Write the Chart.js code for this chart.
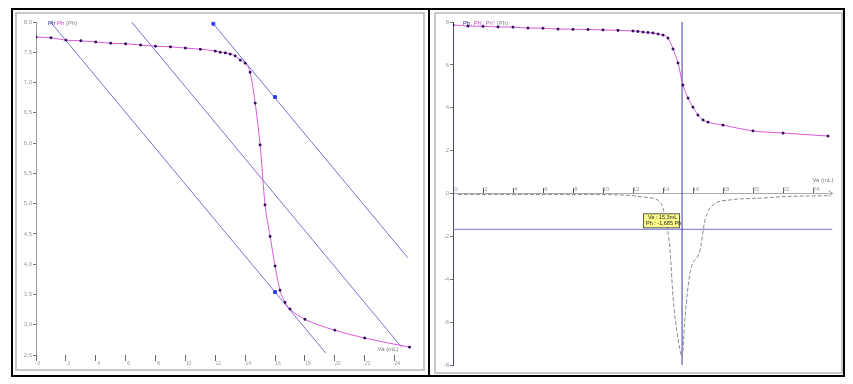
<!DOCTYPE html>
<html>
<head>
<meta charset="utf-8">
<script src="https://cdn.jsdelivr.net/npm/chart.js@4"></script>
<style>
    body { margin: 0; background: #fff; width: 853px; height: 384px; position: relative; overflow: hidden; font-family: "Liberation Sans", Arial, sans-serif; }
    .frame { position: absolute; left: 11px; top: 8px; width: 830px; height: 365px; border: 2px solid #000; }
    .divider { position: absolute; left: 428px; top: 8px; width: 2px; height: 369px; background: #000; }
    .inner { position: absolute; border: 2px solid #c8c8c8; box-sizing: border-box; }
    canvas { position: absolute; }
</style>
</head>
<body>
<div class="frame"></div>
<div class="divider"></div>
<div class="inner" style="left:15px;top:12px;width:410px;height:359px;"></div>
<div class="inner" style="left:434px;top:12px;width:409px;height:362px;"></div>
<canvas id="leftChart" width="405" height="354" style="left:17px;top:14px;"></canvas>
<canvas id="rightChart" width="404" height="357" style="left:436px;top:14px;"></canvas>
<script>
// titration: volume added (mL) and pH
var volumes = [0, 1, 2, 3, 4, 5, 6, 7, 8, 9, 10, 11, 12, 12.33, 12.67, 13, 13.33, 13.67, 14, 14.33, 14.67,
    15, 15.33, 15.67, 16, 16.33, 16.67, 17, 18, 20, 22, 25];
var phLeft = [7.75, 7.74, 7.70, 7.69, 7.67, 7.65, 7.64, 7.62, 7.60, 7.59, 7.57, 7.55, 7.52, 7.50, 7.49, 7.47, 7.44, 7.37, 7.32, 7.17, 6.66,
    5.97, 4.98, 4.46, 3.97, 3.57, 3.37, 3.26, 3.09, 2.91, 2.78, 2.63];
var phRight = [7.86, 7.81, 7.80, 7.77, 7.76, 7.72, 7.71, 7.67, 7.66, 7.65, 7.63, 7.61, 7.58, 7.56, 7.53, 7.51, 7.49, 7.44, 7.39, 7.25, 6.74,
    6.09, 5.06, 4.45, 4.03, 3.66, 3.43, 3.33, 3.19, 2.92, 2.82, 2.68];

// derivative dpH/dV (right panel, grey curve)
var derivVolumes = [0.33, 2.47, 8.87, 12.0, 12.27, 13.13, 13.93, 14.13, 14.47, 14.67, 15.13, 15.27, 15.47, 15.8, 16.47, 16.8, 17.33, 18.47, 20.67, 22.27, 25.13];
var derivValues = [-0.05, -0.05, -0.05, -0.1, -0.14, -0.2, -0.54, -1.1, -2.64, -4.83, -7.3, -7.62, -5.76, -3.71, -2.64, -1.24, -0.54, -0.30, -0.21, -0.14, -0.1];

// parallel tangents method (left panel)
var tangent1X = [0.97, 19.4], tangent1Y = [8.0, 2.53];
var tangent2X = [6.4, 24.47], tangent2Y = [8.0, 2.63];
var tangent3X = [11.87, 24.87], tangent3Y = [7.97, 4.11];
var handleX = [11.87, 16, 16], handleY = [7.97, 6.76, 3.54];

// cursor on right panel
var cursorVa = 15.27;
var cursorPh = -1.67;
var cursorText = ["Va : 15,3mL", "Ph : -1,685 Ph"];

var leftXTicks = [0, 2, 4, 6, 8, 10, 12, 14, 16, 18, 20, 22, 24];

function pts(xs, ys) {
    return xs.map(function (x, i) { return {x: x, y: ys[i]}; });
}

var tinyFont = {family: 'Liberation Sans', size: 6};

var leftText = {
    id: 'leftText',
    afterDraw: function (chart) {
        var ctx = chart.ctx, xs = chart.scales.x, area = chart.chartArea;
        ctx.save();
        ctx.font = '6px "Liberation Sans"';
        ctx.textBaseline = 'middle';
        var x = 31, y = 9;
        ctx.fillStyle = '#2a2a8a'; ctx.fillText('Ph', x, y); x += ctx.measureText('Ph ').width;
        ctx.fillStyle = '#d040d0'; ctx.fillText('Ph', x, y); x += ctx.measureText('Ph ').width;
        ctx.fillStyle = '#888'; ctx.fillText('(Ph)', x, y);
        ctx.fillStyle = '#777';
        ctx.fillText('Va (mL)', xs.getPixelForValue(24) - 17, area.bottom - 6);
        ctx.restore();
    }
};

var rightText = {
    id: 'rightText',
    afterDraw: function (chart) {
        var ctx = chart.ctx, xs = chart.scales.x, ys = chart.scales.y;
        ctx.save();
        ctx.font = '6px "Liberation Sans"';
        ctx.textBaseline = 'middle';
        var x = 27, y = 9;
        ctx.fillStyle = '#2a2a8a'; ctx.fillText('Ph,', x, y); x += ctx.measureText('Ph, ').width;
        ctx.fillStyle = '#d040d0'; ctx.fillText("Ph',", x, y); x += ctx.measureText("Ph', ").width;
        ctx.fillStyle = '#b070b0'; ctx.fillText("Ph''", x, y); x += ctx.measureText("Ph'' ").width;
        ctx.fillStyle = '#888'; ctx.fillText('(Ph)', x, y);

        // axis arrow and title
        var ax = xs.getPixelForValue(xs.max), ay = ys.getPixelForValue(0);
        ctx.strokeStyle = '#999';
        ctx.lineWidth = 1;
        ctx.beginPath();
        ctx.moveTo(ax - 4, ay - 3); ctx.lineTo(ax, ay); ctx.lineTo(ax - 4, ay + 3);
        ctx.stroke();
        ctx.fillStyle = '#777';
        ctx.fillText('Va (mL)', ax - 20, ay - 13);

        // cursor box
        var cx = xs.getPixelForValue(cursorVa), cy = ys.getPixelForValue(cursorPh);
        var bx = cx - 39, by = cy - 16, bw = 36, bh = 14;
        ctx.fillStyle = '#ffff8c';
        ctx.fillRect(bx, by, bw, bh);
        ctx.strokeStyle = '#555';
        ctx.strokeRect(bx + 0.5, by + 0.5, bw, bh);
        ctx.fillStyle = '#222';
        ctx.font = '5.5px "Liberation Sans"';
        ctx.fillText(cursorText[0], bx + 5, by + 4);
        ctx.fillText(cursorText[1], bx + 3, by + 10);
        ctx.restore();
    }
};

new Chart(document.getElementById('leftChart'), {
    type: 'scatter',
    data: {
        datasets: [{
            data: pts(volumes, phLeft),
            showLine: true,
            borderColor: '#d95ad9',
            borderWidth: 1,
            cubicInterpolationMode: 'monotone',
            pointStyle: 'rect',
            pointRadius: 1.2,
            pointBackgroundColor: '#2a0a5a',
            pointBorderColor: '#2a0a5a'
        }, {
            data: pts(handleX, handleY),
            showLine: false,
            clip: false,
            pointStyle: 'rect',
            pointRadius: 2,
            pointBackgroundColor: '#2a3cf0',
            pointBorderColor: '#2a3cf0'
        }, {
            data: pts(tangent1X, tangent1Y),
            showLine: true, borderColor: '#7474d4', borderWidth: 1, pointRadius: 0
        }, {
            data: pts(tangent2X, tangent2Y),
            showLine: true, borderColor: '#7474d4', borderWidth: 1, pointRadius: 0
        }, {
            data: pts(tangent3X, tangent3Y),
            showLine: true, borderColor: '#7474d4', borderWidth: 1, pointRadius: 0
        }]
    },
    options: {
        responsive: false,
        animation: false,
        devicePixelRatio: 1,
        layout: {padding: {top: 8, right: 3.5, left: 0, bottom: 0}},
        plugins: {legend: {display: false}, tooltip: {enabled: false}},
        scales: {
            x: {
                type: 'linear', min: 0, max: 25.5,
                afterFit: function (s) { s.height = 13; },
                afterBuildTicks: function (s) { s.ticks = leftXTicks.map(function (v) { return {value: v}; }); },
                grid: {drawOnChartArea: false, tickLength: 6, color: '#666'},
                border: {display: false},
                ticks: {font: {family: 'Liberation Sans', size: 5}, color: '#999', padding: 0, labelOffset: 3, maxRotation: 0}
            },
            y: {
                min: 2.5, max: 8,
                afterFit: function (s) { s.width = 19; },
                grid: {drawOnChartArea: false, tickLength: 3, color: '#777'},
                border: {color: '#999'},
                ticks: {stepSize: 0.5, font: tinyFont, color: '#999', padding: 1,
                    callback: function (v) { return v.toFixed(1).replace('.', ','); }}
            }
        }
    },
    plugins: [leftText]
});

new Chart(document.getElementById('rightChart'), {
    type: 'scatter',
    data: {
        datasets: [{
            data: pts(volumes, phRight),
            showLine: true,
            borderColor: '#d95ad9',
            borderWidth: 1,
            cubicInterpolationMode: 'monotone',
            pointStyle: 'rect',
            pointRadius: 1.2,
            pointBackgroundColor: '#2a0a5a',
            pointBorderColor: '#2a0a5a'
        }, {
            data: pts(derivVolumes, derivValues),
            showLine: true,
            borderColor: '#8a8a8a',
            borderWidth: 1,
            borderDash: [4, 2],
            cubicInterpolationMode: 'monotone',
            pointRadius: 0
        }, {
            data: pts([cursorVa, cursorVa], [-8.1, 8.1]),
            showLine: true, borderColor: '#3a3ab0', borderWidth: 1, pointRadius: 0
        }, {
            data: pts([0, 25.3], [cursorPh, cursorPh]),
            showLine: true, borderColor: '#7474d4', borderWidth: 1, pointRadius: 0
        }]
    },
    options: {
        responsive: false,
        animation: false,
        devicePixelRatio: 1,
        layout: {padding: {top: 8, right: 7.5, left: 0, bottom: 6}},
        plugins: {legend: {display: false}, tooltip: {enabled: false}},
        scales: {
            x: {
                type: 'linear', min: 0, max: 25.3,
                position: {y: 0},
                grid: {drawOnChartArea: false, tickLength: -6, color: '#555'},
                border: {color: '#aaa'},
                ticks: {stepSize: 2, includeBounds: false, font: tinyFont, color: '#999', padding: -2, labelOffset: 3, maxRotation: 0}
            },
            y: {
                min: -8, max: 8,
                afterFit: function (s) { s.width = 17; },
                grid: {drawOnChartArea: false, tickLength: 3, color: '#777'},
                border: {color: '#4a4a66'},
                ticks: {stepSize: 2, font: tinyFont, color: '#999', padding: 1}
            }
        }
    },
    plugins: [rightText]
});
</script>
</body>
</html>
